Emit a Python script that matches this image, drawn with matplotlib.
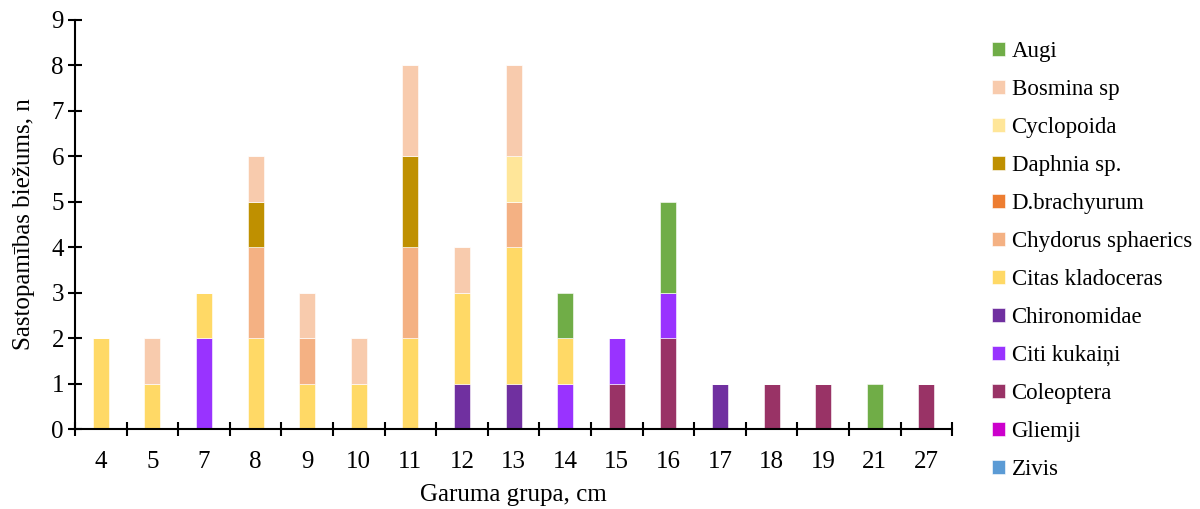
import numpy as np
import matplotlib.pyplot as plt

plt.rcParams['font.family'] = ['Liberation Serif', 'DejaVu Serif']

# garuma grupas, cm
groups = ['4', '5', '7', '8', '9', '10', '11', '12', '13', '14', '15', '16', '17', '18', '19', '21', '27']

# sastopamiba pa grupam (no apakshas uz augshu)
zivis          = [0, 0, 0, 0, 0, 0, 0, 0, 0, 0, 0, 0, 0, 0, 0, 0, 0]
gliemji        = [0, 0, 0, 0, 0, 0, 0, 0, 0, 0, 0, 0, 0, 0, 0, 0, 0]
coleoptera     = [0, 0, 0, 0, 0, 0, 0, 0, 0, 0, 1, 2, 0, 1, 1, 0, 1]
citi_kukaini   = [0, 0, 2, 0, 0, 0, 0, 0, 0, 1, 1, 1, 0, 0, 0, 0, 0]
chironomidae   = [0, 0, 0, 0, 0, 0, 0, 1, 1, 0, 0, 0, 1, 0, 0, 0, 0]
citas_klad     = [2, 1, 1, 2, 1, 1, 2, 2, 3, 1, 0, 0, 0, 0, 0, 0, 0]
chydorus       = [0, 0, 0, 2, 1, 0, 2, 0, 1, 0, 0, 0, 0, 0, 0, 0, 0]
d_brachyurum   = [0, 0, 0, 0, 0, 0, 0, 0, 0, 0, 0, 0, 0, 0, 0, 0, 0]
daphnia        = [0, 0, 0, 1, 0, 0, 2, 0, 0, 0, 0, 0, 0, 0, 0, 0, 0]
cyclopoida     = [0, 0, 0, 0, 0, 0, 0, 0, 1, 0, 0, 0, 0, 0, 0, 0, 0]
bosmina        = [0, 1, 0, 1, 1, 1, 2, 1, 2, 0, 0, 0, 0, 0, 0, 0, 0]
augi           = [0, 0, 0, 0, 0, 0, 0, 0, 0, 1, 0, 2, 0, 0, 0, 1, 0]

series = [
    ('Zivis', zivis, '#5B9BD5'),
    ('Gliemji', gliemji, '#CC00CC'),
    ('Coleoptera', coleoptera, '#993366'),
    ('Citi kukaiņi', citi_kukaini, '#9933FF'),
    ('Chironomidae', chironomidae, '#7030A0'),
    ('Citas kladoceras', citas_klad, '#FFD966'),
    ('Chydorus sphaerics', chydorus, '#F4B183'),
    ('D.brachyurum', d_brachyurum, '#ED7D31'),
    ('Daphnia sp.', daphnia, '#BF9000'),
    ('Cyclopoida', cyclopoida, '#FFE699'),
    ('Bosmina sp', bosmina, '#F8CBAD'),
    ('Augi', augi, '#70AD47'),
]

fig = plt.figure(figsize=(12, 5.09), dpi=100)
ax = fig.add_axes([0.0625, 0.157, 0.731, 0.804])

x = np.arange(len(groups))
bottom = np.zeros(len(groups))
handles = []
for name, vals, col in series:
    v = np.array(vals, dtype=float)
    b = ax.bar(x, v, 0.31, bottom=bottom, color=col, edgecolor='white', linewidth=0.4, label=name)
    handles.append(b)
    bottom += v

ax.set_xlim(-0.5, len(groups) - 0.5)
ax.set_ylim(0, 9)
ax.set_yticks(range(10))
ax.set_xticks(x)
ax.set_xticklabels(groups)
ax.set_xticks(np.arange(len(groups) + 1) - 0.5, minor=True)
ax.tick_params(axis='x', which='major', length=0, pad=16, labelsize=18)
ax.tick_params(axis='x', which='minor', direction='inout', length=10, width=1.5)
ax.tick_params(axis='y', direction='inout', length=10, width=1.5, labelsize=18, pad=3)

for s in ['top', 'right']:
    ax.spines[s].set_visible(False)
for s in ['left', 'bottom']:
    ax.spines[s].set_linewidth(1.5)

ax.set_xlabel('Garuma grupa, cm', fontsize=18, labelpad=8)
ax.set_ylabel('Sastopamības biežums, n', fontsize=18, labelpad=12)

leg = fig.legend(handles[::-1], [s[0] for s in series][::-1], loc='upper left',
                 bbox_to_anchor=(0.821, 0.932), frameon=False, fontsize=16.5,
                 handlelength=0.55, handleheight=0.55, handletextpad=0.3, labelspacing=0.74,
                 borderaxespad=0, borderpad=0.3)

fig.savefig('out.png', dpi=100)
